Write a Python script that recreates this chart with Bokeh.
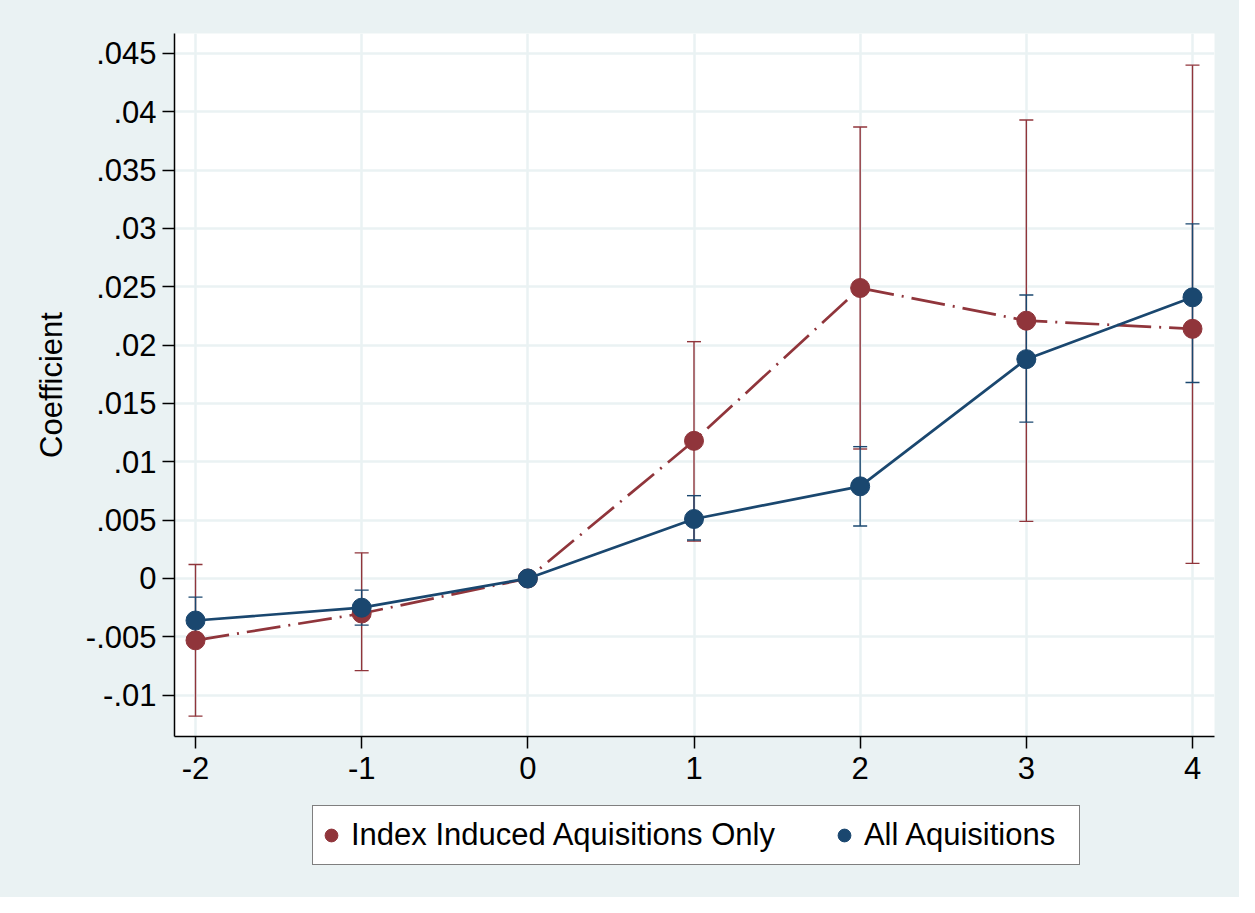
import numpy as np
from bokeh.plotting import figure
from bokeh.layouts import column
from bokeh.models import (FixedTicker, Legend, LegendItem, Range1d)
from bokeh.embed import file_html
from bokeh.resources import INLINE

# ---- data ----
periods = [-2, -1, 0, 1, 2, 3, 4]
index_coef = [-0.0053, -0.0030, 0.0, 0.0118, 0.0249, 0.0221, 0.0214]
index_lo = [-0.0118, -0.0079, np.nan, 0.0032, 0.0111, 0.0049, 0.0013]
index_hi = [0.0012, 0.0022, np.nan, 0.0203, 0.0387, 0.0393, 0.0440]
all_coef = [-0.0036, -0.0025, 0.0, 0.0051, 0.0079, 0.0188, 0.0241]
all_lo = [-0.0055, -0.0040, np.nan, 0.0033, 0.0045, 0.0134, 0.0168]
all_hi = [-0.0016, -0.0010, np.nan, 0.0071, 0.0113, 0.0243, 0.0304]

x_ticks = [-2, -1, 0, 1, 2, 3, 4]
y_ticks = [-0.01, -0.005, 0.0, 0.005, 0.01, 0.015, 0.02, 0.025, 0.03, 0.035, 0.04, 0.045]
y_tick_labels = ["-.01", "-.005", "0", ".005", ".01", ".015", ".02", ".025", ".03", ".035", ".04", ".045"]

series_names = ["Index Induced Aquisitions Only", "All Aquisitions"]
y_title = "Coefficient"

RED = "#90353b"
BLUE = "#1a476f"
BG = "#eaf2f3"
FONT = "Liberation Sans"
FS = "31px"

p = figure(width=1239, height=800, output_backend="svg", toolbar_location=None,
           x_range=Range1d(-2.1264, 4.1324), y_range=Range1d(-0.013543, 0.046714),
           min_border_left=174, min_border_right=25, min_border_top=33, min_border_bottom=64)
p.border_fill_color = BG
p.background_fill_color = "white"
p.outline_line_color = None

# grid
p.xgrid.ticker = FixedTicker(ticks=x_ticks)
p.ygrid.ticker = FixedTicker(ticks=y_ticks)
for g in (p.xgrid, p.ygrid):
    g.grid_line_color = BG
    g.grid_line_width = 2.5

# axes
p.xaxis.ticker = FixedTicker(ticks=x_ticks)
p.yaxis.ticker = FixedTicker(ticks=y_ticks)
p.yaxis.major_label_overrides = {v: s for v, s in zip(y_ticks, y_tick_labels)}
p.xaxis.major_label_overrides = {v: str(v) for v in x_ticks}
for ax in (p.xaxis, p.yaxis):
    ax.axis_line_color = "black"
    ax.axis_line_width = 1.5
    ax.major_tick_line_color = "black"
    ax.major_tick_line_width = 1.5
    ax.major_tick_out = 12
    ax.major_tick_in = 0
    ax.minor_tick_line_color = None
    ax.major_label_text_font = FONT
    ax.major_label_text_font_size = FS
    ax.major_label_text_color = "black"
p.yaxis.major_label_standoff = 6
p.xaxis.major_label_standoff = 8
p.yaxis.axis_label = y_title
p.yaxis.axis_label_text_font = FONT
p.yaxis.axis_label_text_font_size = FS
p.yaxis.axis_label_text_font_style = "normal"
p.yaxis.axis_label_text_color = "black"
p.yaxis.axis_label_standoff = 14

# error bars (red first, then blue)
for lo, hi, col in ((index_lo, index_hi, RED), (all_lo, all_hi, BLUE)):
    p.segment(x0=periods, y0=lo, x1=periods, y1=hi, line_color=col, line_width=1.4)
    p.scatter(x=periods, y=lo, marker="dash", size=14, line_color=col, line_width=1.4)
    p.scatter(x=periods, y=hi, marker="dash", size=14, line_color=col, line_width=1.4)

# connected lines
p.line(periods, index_coef, line_color=RED, line_width=2.7, line_dash="34 8 2 8")
p.scatter(periods, index_coef, size=19, fill_color=RED, line_color=RED)
p.line(periods, all_coef, line_color=BLUE, line_width=2.7)
p.scatter(periods, all_coef, size=19, fill_color=BLUE, line_color=BLUE)

# legend strip (separate figure so the legend is not clipped)
leg = figure(width=1239, height=97, output_backend="svg", toolbar_location=None,
             x_axis_location=None, y_axis_location=None,
             x_range=Range1d(0, 1), y_range=Range1d(0, 1),
             min_border_left=174, min_border_right=25, min_border_top=0, min_border_bottom=0)
leg.border_fill_color = BG
leg.border_fill_alpha = 0.0
leg.background_fill_color = BG
leg.background_fill_alpha = 0.0
leg.outline_line_color = None
leg.xgrid.visible = False
leg.ygrid.visible = False
lr = leg.scatter([np.nan], [np.nan], size=18, fill_color=RED, line_color=RED)
lb = leg.scatter([np.nan], [np.nan], size=18, fill_color=BLUE, line_color=BLUE)

legend = Legend(items=[LegendItem(label=series_names[0], renderers=[lr]),
                       LegendItem(label=series_names[1], renderers=[lb])],
                orientation="horizontal", location=(138, 32))
legend.label_text_font = FONT
legend.label_text_font_size = FS
legend.label_text_color = "black"
legend.glyph_width = 32
legend.glyph_height = 32
legend.label_standoff = 4
legend.label_height = 54
legend.label_width = 213
legend.spacing = 53
legend.padding = 2
legend.margin = 0
legend.border_line_color = "black"
legend.border_line_width = 1.5
legend.background_fill_color = "white"
legend.background_fill_alpha = 1.0
leg.add_layout(legend, "center")

layout = column(p, leg, spacing=0, styles={"background-color": BG})
open("out.html", "w").write(file_html(layout, INLINE))
